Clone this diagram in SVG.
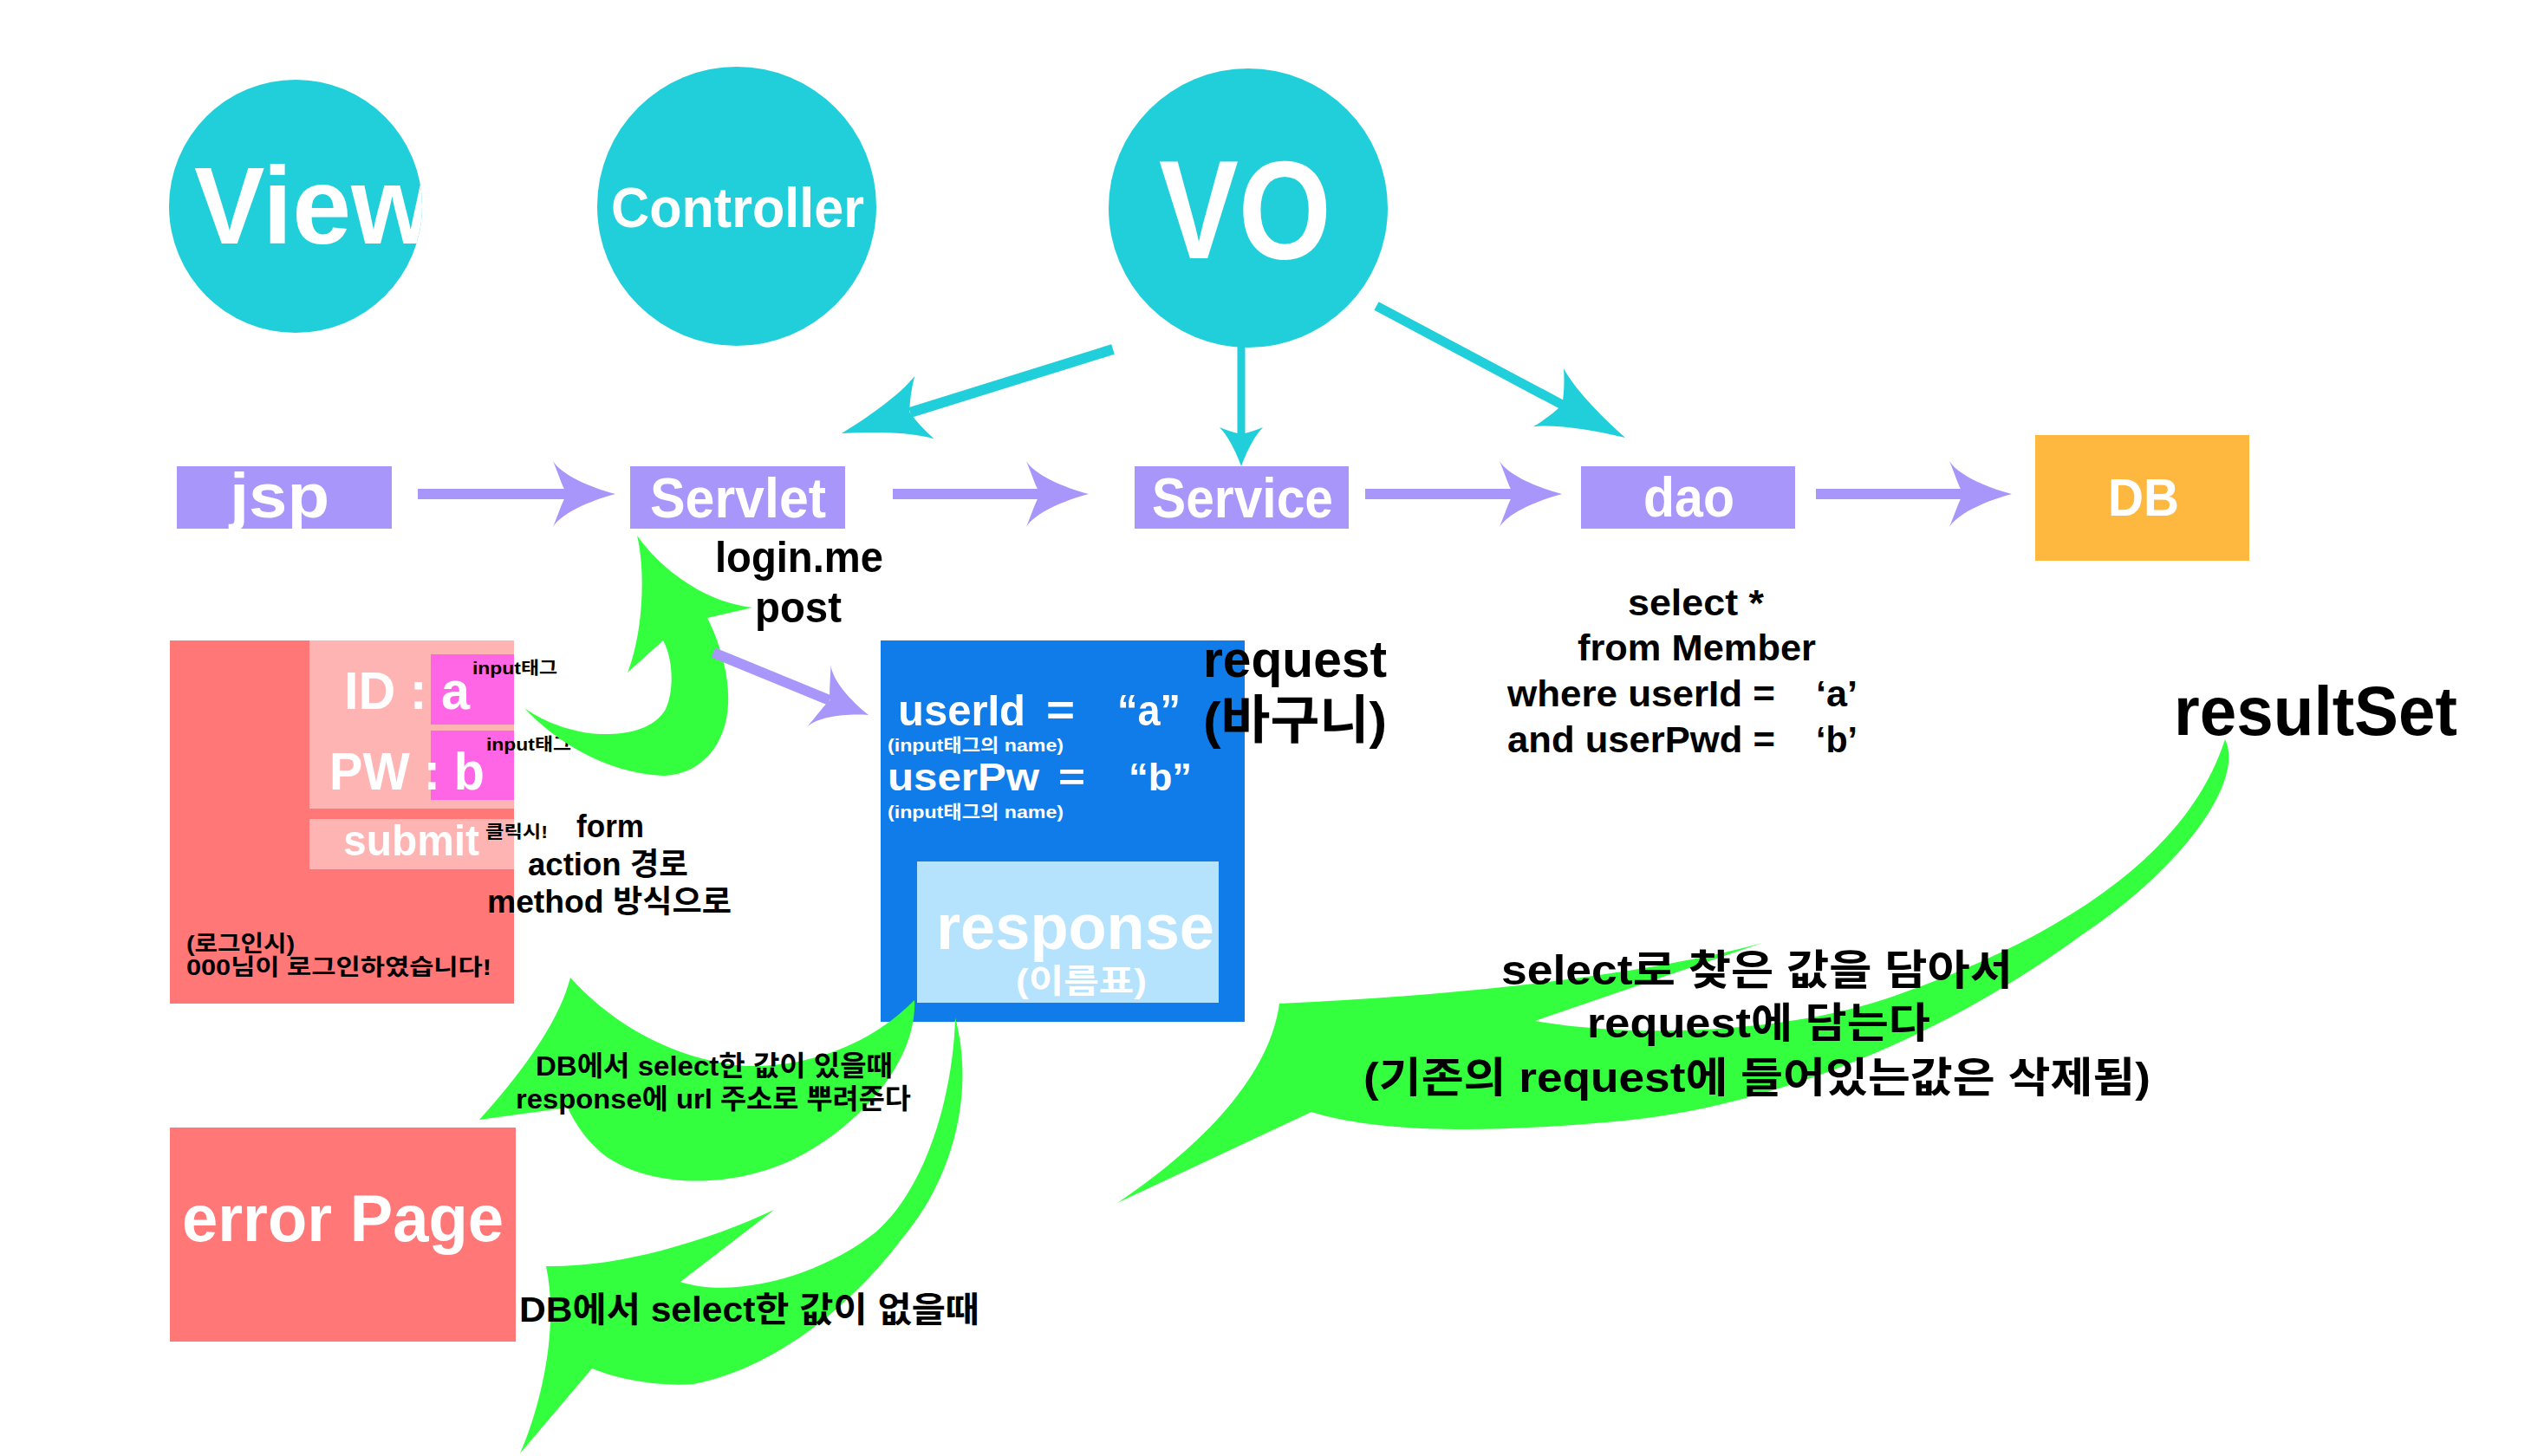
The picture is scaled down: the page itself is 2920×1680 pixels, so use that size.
<svg xmlns="http://www.w3.org/2000/svg" width="2920" height="1680" viewBox="0 0 2920 1680">
<defs>
<style>
.t{font-family:"Liberation Sans","Noto Sans CJK KR",sans-serif;font-weight:bold}
.w{fill:#ffffff}
.k{fill:#000000}
.cy{fill:#21CFDA}
.pu{fill:#A996FA}
.gr{fill:#33FF3E}
.cyl{stroke:#21CFDA;fill:none}
.pul{stroke:#A996FA;stroke-width:12;fill:none}
</style>
<path id="ahP" d="M0,0 C-30,-8 -62,-22 -72,-38 C-66,-24 -62,-10 -56,0 C-62,10 -66,24 -72,38 C-62,22 -30,8 0,0Z"/>
<path id="ahC" d="M0,0 C-40,-10 -80,-24 -100,-38 C-92,-25 -86,-12 -82,0 C-86,12 -92,25 -100,38 C-80,24 -40,10 0,0Z"/>
<clipPath id="cView"><circle cx="341" cy="238" r="146"/></clipPath>
</defs>
<rect width="2920" height="1680" fill="#ffffff"/>

<g id="view">
<circle class="cy" cx="341" cy="238" r="146"/>
<text class="t w" x="224" y="281" font-size="127" textLength="276" lengthAdjust="spacingAndGlyphs" clip-path="url(#cView)">View</text>
</g>
<g id="controller">
<circle class="cy" cx="850" cy="238" r="161"/>
<text class="t w" x="705" y="262" font-size="64" textLength="292" lengthAdjust="spacingAndGlyphs">Controller</text>
</g>
<g id="vo">
<circle class="cy" cx="1440" cy="240" r="161"/>
<text class="t w" x="1337" y="298" font-size="161" textLength="199" lengthAdjust="spacingAndGlyphs">VO</text>
</g>

<g id="jsp">
<rect class="pu" x="204" y="538" width="248" height="72"/>
<text class="t w" x="265" y="597" font-size="72" textLength="115" lengthAdjust="spacingAndGlyphs">jsp</text>
</g>
<g id="servlet">
<rect class="pu" x="727" y="538" width="248" height="72"/>
<text class="t w" x="750" y="597" font-size="65" textLength="203" lengthAdjust="spacingAndGlyphs">Servlet</text>
</g>
<g id="service">
<rect class="pu" x="1309" y="538" width="247" height="72"/>
<text class="t w" x="1329" y="597" font-size="65" textLength="209" lengthAdjust="spacingAndGlyphs">Service</text>
</g>
<g id="dao">
<rect class="pu" x="1824" y="538" width="247" height="72"/>
<text class="t w" x="1896" y="596" font-size="65" textLength="105" lengthAdjust="spacingAndGlyphs">dao</text>
</g>
<g id="db">
<rect fill="#FFB83F" x="2348" y="502" width="247" height="145"/>
<text class="t w" x="2432" y="595" font-size="62" textLength="82" lengthAdjust="spacingAndGlyphs">DB</text>
</g>

<g id="login-form">
<rect fill="#FF7777" x="196" y="739" width="397" height="419"/>
<rect fill="#FFB4B4" x="357" y="739" width="236" height="194"/>
<rect fill="#FF66E6" x="497" y="755" width="96" height="81"/>
<rect fill="#FF66E6" x="497" y="843" width="96" height="80"/>
<rect fill="#FFB4B4" x="357" y="945" width="236" height="58"/>
<text class="t w" x="397" y="818" font-size="62" textLength="145" lengthAdjust="spacingAndGlyphs">ID : a</text>
<text class="t w" x="380" y="911" font-size="61" textLength="179" lengthAdjust="spacingAndGlyphs">PW : b</text>
<text class="t w" x="396" y="987" font-size="50" textLength="157" lengthAdjust="spacingAndGlyphs">submit</text>
<text class="t k" x="545" y="778" font-size="20" textLength="98" lengthAdjust="spacingAndGlyphs">input태그</text>
<text class="t k" x="561" y="866" font-size="20" textLength="98" lengthAdjust="spacingAndGlyphs">input태그</text>
<text class="t k" x="560" y="967" font-size="20" textLength="72" lengthAdjust="spacingAndGlyphs">클릭시!</text>
<text class="t k" x="215" y="1098" font-size="26" textLength="125" lengthAdjust="spacingAndGlyphs">(로그인시)</text>
<text class="t k" x="215" y="1125" font-size="26" textLength="352" lengthAdjust="spacingAndGlyphs">000님이 로그인하였습니다!</text>
</g>

<g id="request">
<rect fill="#107CE9" x="1016" y="739" width="420" height="440"/>
<rect fill="#B5E2FD" x="1058" y="994" width="348" height="163"/>
<text class="t w" x="1036" y="837" font-size="50" textLength="147" lengthAdjust="spacingAndGlyphs">userId</text>
<text class="t w" x="1207" y="837" font-size="50" textLength="33" lengthAdjust="spacingAndGlyphs">=</text>
<text class="t w" x="1289" y="837" font-size="50" textLength="73" lengthAdjust="spacingAndGlyphs">“a”</text>
<text class="t w" x="1024" y="867" font-size="21" textLength="203" lengthAdjust="spacingAndGlyphs">(input태그의 name)</text>
<text class="t w" x="1024" y="912" font-size="44" textLength="175" lengthAdjust="spacingAndGlyphs">userPw</text>
<text class="t w" x="1221" y="912" font-size="44" textLength="31" lengthAdjust="spacingAndGlyphs">=</text>
<text class="t w" x="1302" y="912" font-size="44" textLength="73" lengthAdjust="spacingAndGlyphs">“b”</text>
<text class="t w" x="1024" y="944" font-size="21" textLength="203" lengthAdjust="spacingAndGlyphs">(input태그의 name)</text>
<text class="t w" x="1080" y="1095" font-size="74" textLength="321" lengthAdjust="spacingAndGlyphs">response</text>
<text class="t w" x="1172" y="1145" font-size="38" textLength="151" lengthAdjust="spacingAndGlyphs">(이름표)</text>
</g>

<g id="error-page">
<rect fill="#FF7777" x="196" y="1301" width="399" height="247"/>
<text class="t w" x="210" y="1432" font-size="76" textLength="371" lengthAdjust="spacingAndGlyphs">error Page</text>
</g>

<g id="connectors">
<line class="pul" x1="482" y1="570" x2="660" y2="570"/>
<use href="#ahP" class="pu" transform="translate(710,570)"/>
<line class="pul" x1="1030" y1="570" x2="1206" y2="570"/>
<use href="#ahP" class="pu" transform="translate(1256,570)"/>
<line class="pul" x1="1575" y1="570" x2="1752" y2="570"/>
<use href="#ahP" class="pu" transform="translate(1802,570)"/>
<line class="pul" x1="2095" y1="570" x2="2271" y2="570"/>
<use href="#ahP" class="pu" transform="translate(2321,570)"/>
<line class="cyl" stroke-width="12" x1="1284" y1="403" x2="1050" y2="476"/>
<use href="#ahC" class="cy" transform="translate(971,500) rotate(162.7)"/>
<line class="cyl" stroke-width="9" x1="1432" y1="395" x2="1432" y2="506"/>
<use href="#ahC" class="cy" transform="translate(1432,538) rotate(90) scale(0.45,0.66)"/>
<line class="cyl" stroke-width="11" x1="1588" y1="353" x2="1806" y2="469"/>
<use href="#ahC" class="cy" transform="translate(1875,505) rotate(27.6)"/>
<path class="gr" d="M605,817 C640,855 700,893 767,895 C810,893 838,858 840,813 C842,780 830,740 816,713 L868,701 C815,695 765,660 735,618 C745,660 742,730 724,776 L765,739 C777,760 778,800 767,820 C752,843 720,848 693,847 C665,846 630,835 605,817 Z"/>
<line class="pul" x1="823" y1="753" x2="957" y2="808"/>
<use href="#ahP" class="pu" transform="translate(1002,825) rotate(21) scale(0.85,1)"/>
<path class="gr" d="M1055,1154 C1058,1220 1000,1290 930,1330 C860,1370 760,1375 700,1335 C680,1320 665,1300 655,1278 L553,1292 C600,1240 645,1180 658,1128 C700,1175 770,1222 860,1230 C940,1232 1010,1200 1055,1154 Z"/>
<path class="gr" d="M1102,1174 C1125,1260 1100,1360 1040,1430 C980,1510 890,1580 800,1597 C760,1600 715,1592 683,1579 L600,1677 C625,1620 645,1530 630,1461 C720,1462 820,1430 893,1396 L785,1479 C850,1500 950,1470 1010,1422 C1070,1370 1100,1260 1102,1174 Z"/>
<path class="gr" d="M2567,853 C2590,900 2520,1000 2400,1080 C2250,1190 2050,1280 1853,1295 C1740,1305 1600,1310 1513,1283 L1289,1388 C1390,1320 1465,1240 1476,1158 C1650,1150 1880,1130 2033,1088 L1771,1178 C1900,1200 2080,1190 2197,1145 C2350,1090 2520,1000 2567,853 Z"/>
</g>

<g id="labels">
<text class="t k" x="825" y="660" font-size="50" textLength="194" lengthAdjust="spacingAndGlyphs">login.me</text>
<text class="t k" x="871" y="718" font-size="50" textLength="100" lengthAdjust="spacingAndGlyphs">post</text>
<text class="t k" x="665" y="966" font-size="36" textLength="78" lengthAdjust="spacingAndGlyphs">form</text>
<text class="t k" x="609" y="1010" font-size="36" textLength="185" lengthAdjust="spacingAndGlyphs">action 경로</text>
<text class="t k" x="562" y="1053" font-size="36" textLength="282" lengthAdjust="spacingAndGlyphs">method 방식으로</text>
<text class="t k" x="1388" y="781" font-size="60" textLength="212" lengthAdjust="spacingAndGlyphs">request</text>
<text class="t k" x="1388" y="852" font-size="60" textLength="212" lengthAdjust="spacingAndGlyphs">(바구니)</text>
<text class="t k" x="1878" y="710" font-size="42" textLength="157" lengthAdjust="spacingAndGlyphs">select *</text>
<text class="t k" x="1820" y="762" font-size="42" textLength="275" lengthAdjust="spacingAndGlyphs">from Member</text>
<text class="t k" x="1739" y="815" font-size="42" textLength="309" lengthAdjust="spacingAndGlyphs">where userId =</text>
<text class="t k" x="2095" y="815" font-size="42" textLength="48" lengthAdjust="spacingAndGlyphs">‘a’</text>
<text class="t k" x="1739" y="868" font-size="42" textLength="309" lengthAdjust="spacingAndGlyphs">and userPwd =</text>
<text class="t k" x="2095" y="868" font-size="42" textLength="48" lengthAdjust="spacingAndGlyphs">‘b’</text>
<text class="t k" x="2508" y="848" font-size="80" textLength="327" lengthAdjust="spacingAndGlyphs">resultSet</text>
<text class="t k" x="618" y="1241" font-size="32" textLength="412" lengthAdjust="spacingAndGlyphs">DB에서 select한 값이 있을때</text>
<text class="t k" x="595" y="1279" font-size="32" textLength="456" lengthAdjust="spacingAndGlyphs">response에 url 주소로 뿌려준다</text>
<text class="t k" x="599" y="1525" font-size="40" textLength="531" lengthAdjust="spacingAndGlyphs">DB에서 select한 값이 없을때</text>
<text class="t k" x="1732" y="1136" font-size="48" textLength="590" lengthAdjust="spacingAndGlyphs">select로 찾은 값을 담아서</text>
<text class="t k" x="1831" y="1197" font-size="48" textLength="396" lengthAdjust="spacingAndGlyphs">request에 담는다</text>
<text class="t k" x="1573" y="1260" font-size="48" textLength="908" lengthAdjust="spacingAndGlyphs">(기존의 request에 들어있는값은 삭제됨)</text>
</g>
</svg>
